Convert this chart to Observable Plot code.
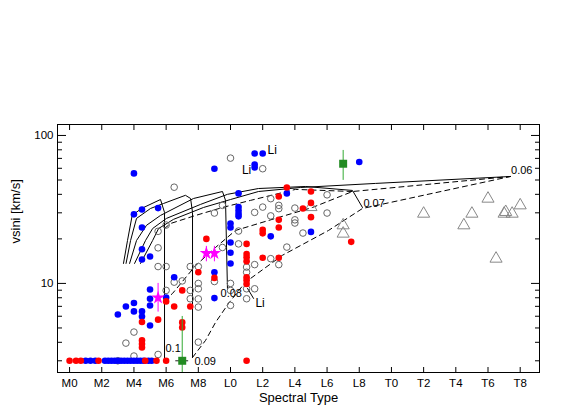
<!DOCTYPE html>
<html><head><meta charset="utf-8">
<script src="https://cdn.jsdelivr.net/npm/d3@7"></script>
<script src="https://cdn.jsdelivr.net/npm/@observablehq/plot@0.6"></script>
<style>body{margin:0;background:#fff}</style>
</head><body><div id="chart"></div>
<script>
// Spectral type numeric: M0=0, L0=10, T0=20
const xTickValues = [0,2,4,6,8,10,12,14,16,18,20,22,24,26,28];
const xTickLabels = ["M0","M2","M4","M6","M8","L0","L2","L4","L6","L8","T0","T2","T4","T6","T8"];
const yMajorTicks = [10,100];
const yMinorTicks = [3,4,5,6,7,8,9,20,30,40,50,60,70,80,90];
const yTickLabels = ["10","100"];

// [spectral type, vsini]
const bluePoints = [[4.0,55.4],[9.0,59.6],[11.5,75.5],[12.0,75.5],[11.5,63.7],[11.5,60.8],[10.5,40.6],[13.5,40.6],
 [4.0,29.3],[4.5,31.6],[5.5,32.3],[4.5,23.9],
 [10.5,32.8],[10.5,31.1],[10.5,29.6],[10.5,28.4],[10.0,25.4],[10.0,23.9],[10.0,18.9],[10.0,16.1],[10.0,13.65],
 [12.5,20.8],[15.0,22.3],[18.0,66.2],
 [4.5,17.0],[4.5,14.5],[5.0,15.2],
 [6.5,11.0],[9.0,11.9],[9.0,7.96],
 [5.0,9.1],[5.0,7.88],[5.0,7.1],[4.0,7.38],[3.5,6.99],[4.0,6.47],[4.5,6.47],[4.5,5.98],[3.0,6.17],[5.0,5.2],[6.0,8.04]];
const blueLimits = [1.0,1.3,1.6,2.2,2.4,2.6,2.8,3.0,3.2,3.4,3.6,3.8,4.0,4.2,4.4,4.6,4.9,5.1];
const redPoints = [[13.5,44.5],[13.0,38.7],[13.0,26.9],[13.0,23.9],[12.0,23.0],[12.0,21.8],[8.5,20.0],[11.0,18.5],
 [15.0,41.8],[15.0,35.0],[14.5,32.1],[15.0,28.05],[17.5,19.1],
 [4.5,5.48],[4.5,4.12],[4.5,3.9],[4.5,3.69],[5.5,5.69],[6.0,7.56],[6.5,6.99],[7.0,8.97],[7.5,6.99],[7.0,5.45],[7.0,5.04],
 [8.0,11.9],[9.0,10.9],[11.0,15.8],[11.0,15.0],[11.0,14.1],[11.0,11.0],[11.0,10.5],[11.0,9.9],[12.0,14.9],[13.0,14.9]];
const redLimits = [0,0.4,0.7,1.8,4.7,5.4,6.0,11.0];
const limitValue = 3;
const openPoints = [[10.0,70.3],[12.0,59.6],[6.5,44.7],[9.0,29.9],[9.5,33.7],[12.5,37.4],[12.0,32.8],[13.0,33.7],[13.0,32.0],
 [11.5,30.2],[12.5,28.6],[14.0,32.3],[14.0,26.9],[14.0,25.6],[6.0,24.8],[5.5,22.5],[10.5,22.6],[13.5,17.6],[10.5,18.5],
 [5.5,17.4],[9.5,17.5],[16.0,39.7],[16.0,29.9],[14.5,21.9],
 [5.5,13.0],[6.0,13.0],[7.5,13.0],[8.0,13.0],
 [6.0,8.97],[6.5,10.2],[7.0,10.4],[7.5,8.97],[7.5,7.88],[8.0,10.0],[8.0,9.2],[8.0,7.86],[8.0,6.92],[9.0,10.3],
 [10.0,10.0],[10.0,8.97],[10.0,7.1],
 [11.0,12.9],[11.0,11.9],[11.0,9.2],[11.0,7.88],[11.5,9.2],[11.5,13.4],[12.5,14.7],[13.0,13.4],
 [4.0,4.69],[3.5,3.95],[5.5,3.31],[8.0,4.01],[4.0,3.23],[3.0,3.0]];
const tDwarfs = [[15.0,32.8],[17.0,24.7],[17.0,21.7],[22.0,29.6],[24.5,24.7],[25.0,29.6],[26.0,37.4],[27.0,29.6],
 [27.1,30.4],[27.5,29.6],[28.0,33.7],[26.5,14.7]];
// [spt, vsini, low, high]
const starPoints = [[5.5,8.0,6.4,10.0],[8.5,16.0,14.0,17.8],[9.0,16.0,14.0,17.8]];
// [spt, vsini, low, high, xerr]
const squarePoints = [[17.0,64.4,49.7,79.2,0],[7.0,3.0,2.5,5.98,0.4]];

// evolutionary tracks (solid) for masses
const track010 = [[3.35,13.65],[3.60,19.5],[3.89,28.8],[4.47,32.1],[5.65,36.9],[5.90,30.2],[5.90,3.11]];
const track009 = [[3.51,13.65],[3.79,19.5],[4.16,27.5],[5.03,32.1],[5.84,34.7],[7.20,39.4],[7.52,37.5],[7.64,30.2],[7.64,3.16]];
const track008 = [[3.73,13.65],[4.16,19.5],[4.78,24.7],[5.65,28.8],[7.70,37.5],[9.50,41.8],[9.69,36.4],[9.81,9.25]];
const track007 = [[4.04,13.65],[4.72,19.5],[5.16,23.5],[6.02,27.5],[8.14,34.2],[9.81,40.0],[11.74,43.8],[14.66,45.2],[17.58,42.5],[18.20,32.6]];
const track006 = [[4.41,13.65],[5.16,19.5],[5.53,23.5],[6.46,27.1],[8.32,32.6],[10.0,36.9],[11.74,41.8],[14.35,44.5],[19.0,47.4],[27.39,52.8]];
// isochrones (dashed)
const iso1 = [[7.64,3.16],[8.45,4.12],[9.07,5.45],[9.88,7.33],[10.93,10.2],[13.23,15.5],[16.09,22.8],[18.20,32.1],[27.39,52.8]];
const iso2 = [[5.90,7.68],[6.40,8.56],[7.83,13.2],[9.07,17.5],[10.31,22.8],[12.98,27.9],[15.09,32.6],[17.58,41.8],[27.39,52.8]];
const iso3 = [[5.90,23.5],[6.27,25.4],[7.83,28.8],[9.50,32.6],[11.24,36.4],[14.04,43.2],[17.58,41.8]];

const massLabels = [["0.1",5.96,3.61],["0.09",7.76,2.97],["0.08",9.38,8.56],["0.07",18.26,34.7],["0.06",27.43,57.6]];
const liLabels = [["Li",12.3,79],["Li",10.71,58.0],["Li",11.55,7.33]];
const liLeader = [[11.06,9.25],[11.43,7.92]];

const P = a => ({s:a[0], v:a[1]});
const tracks = [track010,track009,track008,track007,track006];
const isos = [iso1,iso2,iso3];
const dotR = 3.3;

const chart = Plot.plot({
  width: 573, height: 414,
  marginLeft: 57, marginRight: 34, marginTop: 124, marginBottom: 42,
  style: {fontFamily: "Liberation Sans, Arial, sans-serif", fontSize: "11px", background: "#fff", color: "#000"},
  x: {domain: [-0.75, 29.2], label: null},
  y: {type: "log", domain: [2.5, 118.6], label: null},
  marks: [
    ...tracks.map(t => Plot.line(t.map(P), {x:"s", y:"v", stroke:"#000", strokeWidth:1})),
    ...isos.map(t => Plot.line(t.map(P), {x:"s", y:"v", stroke:"#000", strokeWidth:1, strokeDasharray:"5,4"})),
    Plot.line(liLeader.map(P), {x:"s", y:"v", stroke:"#000", strokeWidth:1}),
    Plot.dot(openPoints.map(P), {x:"s", y:"v", r:dotR, stroke:"#666", strokeWidth:1, fill:"none"}),
    Plot.dot(tDwarfs.map(P), {x:"s", y:"v", r:4.5, symbol:"triangle", stroke:"#888", strokeWidth:1, fill:"none"}),
    Plot.dot(bluePoints.map(P), {x:"s", y:"v", r:dotR, fill:"#0000ff"}),
    Plot.dot(blueLimits, {x:d=>d, y:()=>limitValue, r:dotR, fill:"#0000ff"}),
    Plot.dot(redPoints.map(P), {x:"s", y:"v", r:dotR, fill:"#ff0000"}),
    Plot.dot(redLimits, {x:d=>d, y:()=>limitValue, r:dotR, fill:"#ff0000"}),
    Plot.ruleX(starPoints, {x:d=>d[0], y1:d=>d[2], y2:d=>d[3], stroke:"#ff00ff", strokeWidth:1}),
    Plot.dot(starPoints, {x:d=>d[0], y:d=>d[1], r:4.2, symbol:"star", fill:"#ff00ff"}),
    Plot.ruleX(squarePoints, {x:d=>d[0], y1:d=>d[2], y2:d=>d[3], stroke:"#33aa33", strokeWidth:1}),
    Plot.ruleY(squarePoints.filter(d=>d[4]>0), {y:d=>d[1], x1:d=>d[0]-d[4], x2:d=>d[0]+d[4], stroke:"#222", strokeWidth:1}),
    Plot.dot(squarePoints, {x:d=>d[0], y:d=>d[1], r:4.5, symbol:"square", fill:"#228b22"}),
    Plot.text(massLabels, {x:d=>d[1], y:d=>d[2], text:d=>d[0], textAnchor:"start", fontSize:11, fill:"#000"}),
    Plot.text(liLabels, {x:d=>d[1], y:d=>d[2], text:d=>d[0], textAnchor:"start", fontSize:12, fill:"#000"}),
    Plot.frame({stroke:"#000", strokeWidth:1}),
    Plot.axisX({anchor:"bottom", ticks:xTickValues, tickSize:5, dy:-5, tickFormat:()=>"", label:null}),
    Plot.axisX({anchor:"top", ticks:xTickValues, tickSize:5, dy:5, tickFormat:()=>"", label:null}),
    Plot.axisY({anchor:"left", ticks:yMajorTicks, tickSize:9, dx:9, tickFormat:()=>"", label:null}),
    Plot.axisY({anchor:"left", ticks:yMinorTicks, tickSize:5, dx:5, tickFormat:()=>"", label:null}),
    Plot.axisY({anchor:"right", ticks:yMajorTicks, tickSize:9, dx:-9, tickFormat:()=>"", label:null}),
    Plot.axisY({anchor:"right", ticks:yMinorTicks, tickSize:5, dx:-5, tickFormat:()=>"", label:null}),
    Plot.text(xTickValues, {x:d=>d, text:(d,i)=>xTickLabels[i], frameAnchor:"bottom", dy:14, fontSize:11.5, fill:"#000"}),
    Plot.text(yMajorTicks, {y:d=>d, text:(d,i)=>yTickLabels[i], frameAnchor:"left", dx:-4, textAnchor:"end", fontSize:11.5, fill:"#000"}),
    Plot.text(["Spectral Type"], {text:d=>d, frameAnchor:"bottom", dy:29, fontSize:13, fill:"#000"}),
    Plot.text(["vsini [km/s]"], {text:d=>d, frameAnchor:"left", dx:-42, dy:-5, rotate:-90, fontSize:13, fill:"#000"})
  ]
});
document.getElementById("chart").appendChild(chart);
</script>
</body></html>
